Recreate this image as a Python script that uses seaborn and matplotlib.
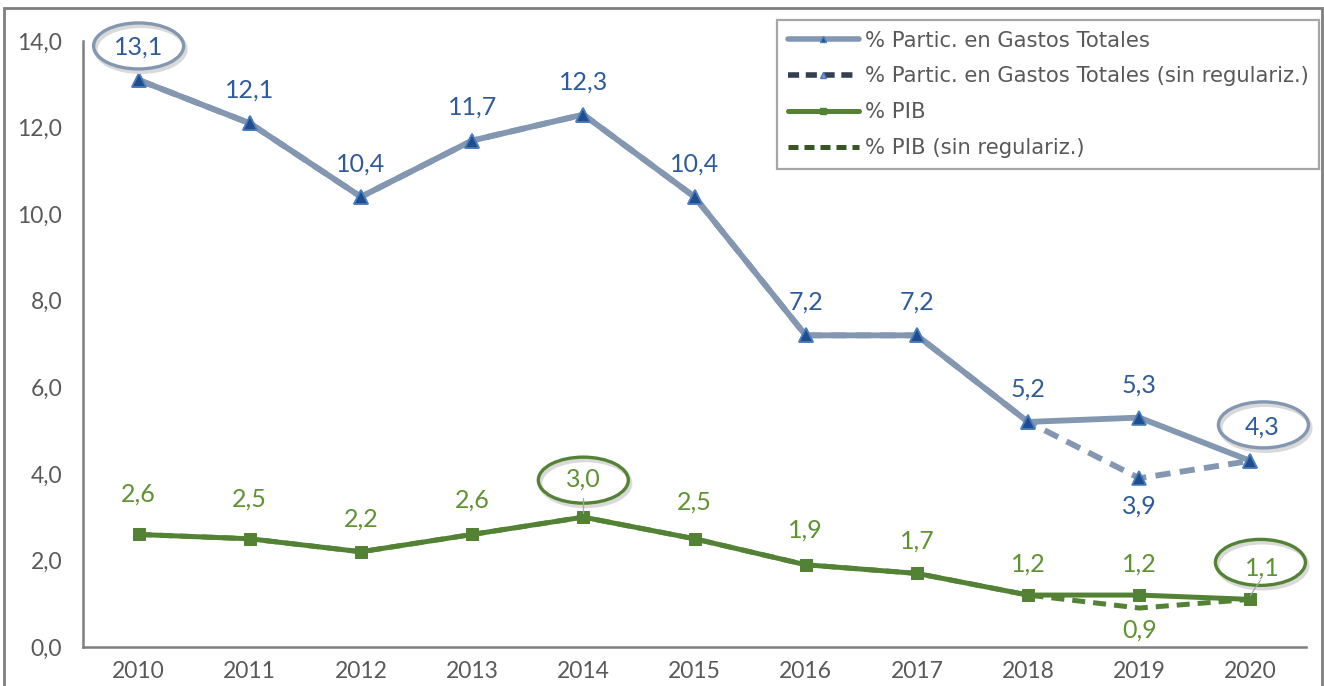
import numpy as np
import pandas as pd
import seaborn as sns
import matplotlib.pyplot as plt
from matplotlib.lines import Line2D
from matplotlib.patches import Ellipse, Rectangle
from matplotlib.ticker import FuncFormatter

years = ['2010', '2011', '2012', '2013', '2014', '2015', '2016', '2017', '2018', '2019', '2020']
gastos = [13.1, 12.1, 10.4, 11.7, 12.3, 10.4, 7.2, 7.2, 5.2, 5.3, 4.3]
gastos_sin = [13.1, 12.1, 10.4, 11.7, 12.3, 10.4, 7.2, 7.2, 5.2, 3.9, 4.3]
pib = [2.6, 2.5, 2.2, 2.6, 3.0, 2.5, 1.9, 1.7, 1.2, 1.2, 1.1]
pib_sin = [2.6, 2.5, 2.2, 2.6, 3.0, 2.5, 1.9, 1.7, 1.2, 0.9, 1.1]

c_gastos = '#8497b0'
c_gastos_txt = '#2f5b9a'
c_pib = '#548235'
c_pib_txt = '#5e9232'
grey = '#7f7f7f'

df = pd.DataFrame({'pos': np.arange(len(years)), 'gastos': gastos, 'gastos_sin': gastos_sin,
                   'pib': pib, 'pib_sin': pib_sin})

sns.set_style('white')
plt.rcParams['font.family'] = ['Lato', 'DejaVu Sans']

fig = plt.figure(figsize=(13.24, 6.86), dpi=100)
ax = fig.add_axes([83 / 1324, 1 - 647 / 686, (1306 - 83) / 1324, (647 - 41) / 686])

# dashed series underneath
sns.lineplot(data=df, x='pos', y='gastos_sin', ax=ax, color=c_gastos, linewidth=4.2,
             linestyle=(0, (2.6, 1.6)), marker='^', markersize=10, markerfacecolor='#1f4e8c',
             markeredgecolor='#4a7cc0', markeredgewidth=1.2, zorder=2)
sns.lineplot(data=df, x='pos', y='pib_sin', ax=ax, color=c_pib, linewidth=3.6,
             linestyle=(0, (2.6, 1.6)), zorder=2)
sns.lineplot(data=df, x='pos', y='gastos', ax=ax, color=c_gastos, linewidth=4.2, marker='^',
             markersize=10, markerfacecolor='#1f4e8c', markeredgecolor='#4a7cc0',
             markeredgewidth=1.2, zorder=3)
sns.lineplot(data=df, x='pos', y='pib', ax=ax, color=c_pib, linewidth=3.6, marker='s',
             markersize=8, markerfacecolor=c_pib, markeredgecolor=c_pib, zorder=3)

ax.set_xlim(-0.5, len(years) - 0.5)
ax.set_ylim(0, 14)
ax.set_xlabel('')
ax.set_ylabel('')
ax.set_xticks(np.arange(len(years)))
ax.set_xticklabels(years)
ax.set_xticks(np.arange(-0.5, len(years), 1), minor=True)
ax.set_yticks(np.arange(0, 15, 2))
ax.yaxis.set_major_formatter(FuncFormatter(lambda v, p: f'{v:.1f}'.replace('.', ',')))
ax.tick_params(axis='x', which='major', length=0, pad=10, labelsize=16.5, labelcolor='#595959')
ax.tick_params(axis='x', which='minor', length=7, width=1.5, direction='in', color=grey)
ax.tick_params(axis='y', length=6, width=1.5, direction='in', color=grey, pad=15,
               labelsize=16.5, labelcolor='#595959')
sns.despine(ax=ax)
for s in ('left', 'bottom'):
    ax.spines[s].set_color(grey)
    ax.spines[s].set_linewidth(1.8)

px_x = ax.transData.transform((1, 0))[0] - ax.transData.transform((0, 0))[0]
px_y = ax.transData.transform((0, 1))[1] - ax.transData.transform((0, 0))[1]


def label(i, v, dy, color, dx=0):
    ax.annotate(f'{v:.1f}'.replace('.', ','), (i, v), xytext=(dx, dy), textcoords='offset pixels',
                ha='center', va='center', fontsize=18, color=color, zorder=5)


def ring(i, v, dy, color, dx=0, lead=False):
    cx = i + dx / px_x
    cy = v + dy / px_y
    ax.add_patch(Ellipse((cx + 2 / px_x, cy - 3 / px_y), 90 / px_x, 46 / px_y, fill=False,
                         edgecolor='#d9d9d9', lw=3, zorder=3.5, clip_on=False))
    ax.add_patch(Ellipse((cx, cy), 90 / px_x, 46 / px_y, fill=False, edgecolor=color,
                         lw=2.4, zorder=4, clip_on=False))
    if lead:
        ax.plot([cx, i], [cy - 18 / px_y, v + 4 / px_y], color='#a6a6a6', lw=0.9, zorder=4)


for i, v in enumerate(gastos):
    label(i, v, 33 if i != 10 else 34, c_gastos_txt, dx=12 if i == 10 else 0)
label(9, gastos_sin[9], -28, c_gastos_txt)
for i, v in enumerate(pib):
    dy = [40, 40, 33, 34, 38, 37, 35, 32, 31, 31, 31][i]
    label(i, v, dy, c_pib_txt, dx=12 if i == 10 else 0)
label(9, pib_sin[9], -22, c_pib_txt)

ring(0, gastos[0], 34, c_gastos)
ring(10, gastos[10], 36, c_gastos, dx=13)
ring(4, pib[4], 37, c_pib, lead=True)
ring(10, pib[10], 37, c_pib, dx=10, lead=True)

handles = [
    Line2D([], [], color=c_gastos, lw=4, marker='^', markersize=5,
           markerfacecolor='#1f4e8c', markeredgecolor='#4a7cc0'),
    Line2D([], [], color='#333f50', lw=4, linestyle=(0, (2, 1.2)), marker='^', markersize=5,
           markerfacecolor=c_gastos, markeredgecolor='#4a7cc0'),
    Line2D([], [], color=c_pib, lw=3.6, marker='s', markersize=4, markerfacecolor=c_pib,
           markeredgecolor=c_pib),
    Line2D([], [], color='#375623', lw=3.6, linestyle=(0, (2, 1.2))),
]
labels = ['% Partic. en Gastos Totales', '% Partic. en Gastos Totales (sin regulariz.)',
          '% PIB', '% PIB (sin regulariz.)']
leg = fig.legend(handles, labels, loc='upper right', bbox_to_anchor=(1319 / 1324, 1 - 20 / 686),
                 prop={'family': 'DejaVu Sans', 'size': 15.2}, labelcolor='#595959',
                 handlelength=3.4, handletextpad=0.25, labelspacing=0.75, borderpad=0.5,
                 borderaxespad=0, fancybox=False, framealpha=1, edgecolor='#a6a6a6',
                 numpoints=1)
leg.get_frame().set_linewidth(1.6)

fig.patches.append(Rectangle((4 / 1324, -0.1), (1322 - 4) / 1324, 1.1 - 8 / 686,
                             transform=fig.transFigure, fill=False, edgecolor=grey, lw=2))

fig.savefig('out.png', dpi=100)
